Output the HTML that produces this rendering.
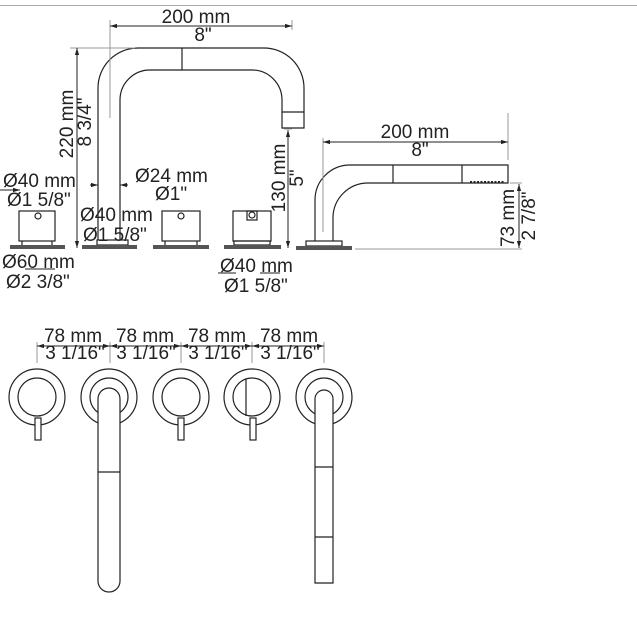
<!DOCTYPE html>
<html><head><meta charset="utf-8"><style>
html,body{margin:0;padding:0;background:#fff;width:637px;height:637px;overflow:hidden}
svg{display:block}
text{font-family:"Liberation Sans",sans-serif;font-size:19px;fill:#222}
.c{text-anchor:middle}
</style></head><body>
<svg width="637" height="637" viewBox="0 0 637 637" xmlns="http://www.w3.org/2000/svg">
<defs>
<marker id="a" viewBox="0 0 10 10" refX="10" refY="5" markerWidth="7" markerHeight="7" orient="auto-start-reverse"><path d="M0,2 L10,5 L0,8 z" fill="#222"/></marker>
</defs>
<line x1="0" y1="5.5" x2="637" y2="5.5" stroke="#aaa" stroke-width="1"/>
<g fill="none" stroke="#222" stroke-width="1.2">
<path d="M98,240 V88 A40,40 0 0 1 138,48 H264 A40,40 0 0 1 304,88 V128 H282 V112"/>
<path d="M120,240 V100 A30,30 0 0 1 150,70 H252 A30,30 0 0 1 282,100 V112 H304"/>
<line x1="182" y1="48" x2="182" y2="70"/>
<rect x="97" y="240" width="31" height="5"/>
<rect x="19" y="211" width="36" height="30"/>
<circle cx="38" cy="216" r="3"/>
<line x1="22" y1="241" x2="22" y2="245"/><line x1="52" y1="241" x2="52" y2="245"/>
<rect x="162" y="211" width="38" height="30"/>
<circle cx="181" cy="216" r="3"/>
<line x1="165" y1="241" x2="165" y2="245"/><line x1="197" y1="241" x2="197" y2="245"/>
<rect x="233" y="211" width="38" height="30"/>
<rect x="247" y="211" width="10" height="9"/>
<circle cx="252" cy="215" r="3"/>
<rect x="234" y="241" width="36" height="4"/>
<path d="M315,241 V200 A35,35 0 0 1 350,165 H508 V183 H368 A35,35 0 0 0 333,218 V241"/>
<rect x="306" y="241" width="36" height="5"/>
<line x1="393" y1="165" x2="393" y2="183"/><line x1="462" y1="165" x2="462" y2="183"/>
<line x1="470" y1="182" x2="505" y2="182" stroke-dasharray="2,1.5" stroke-width="2"/>
</g>
<g fill="#555">
<rect x="10" y="245" width="55" height="4"/>
<rect x="82" y="245" width="55" height="4"/>
<rect x="153" y="245" width="56" height="4"/>
<rect x="224" y="245" width="57" height="4"/>
<rect x="296" y="246" width="56" height="4"/>
</g>
<g stroke="#999" stroke-width="1">
<line x1="110" y1="20" x2="110" y2="118"/>
<line x1="292" y1="20" x2="292" y2="30"/>
<line x1="70" y1="48" x2="135" y2="48"/>
<line x1="284" y1="129" x2="292" y2="129"/>
<line x1="323" y1="138" x2="323" y2="232"/>
<line x1="508" y1="113" x2="508" y2="160"/>
<line x1="355" y1="249" x2="522" y2="249"/>
<line x1="510" y1="183" x2="522" y2="183"/>
<line x1="37" y1="342" x2="37" y2="363"/><line x1="110" y1="342" x2="110" y2="363"/>
<line x1="181" y1="342" x2="181" y2="363"/><line x1="252" y1="342" x2="252" y2="363"/>
<line x1="324" y1="342" x2="324" y2="363"/>
</g>
<g stroke="#222" stroke-width="1" marker-start="url(#a)" marker-end="url(#a)">
<line x1="110" y1="26" x2="292" y2="26"/>
<line x1="77" y1="48" x2="77" y2="248"/>
<line x1="288" y1="130" x2="288" y2="248"/>
<line x1="323" y1="142" x2="508" y2="142"/>
<line x1="519" y1="184" x2="519" y2="248"/>
<line x1="37" y1="346" x2="110" y2="346"/><line x1="110" y1="346" x2="181" y2="346"/>
<line x1="181" y1="346" x2="252" y2="346"/><line x1="252" y1="346" x2="324" y2="346"/>
</g>
<g stroke="#222" stroke-width="1">
<line x1="0" y1="190" x2="20" y2="190" marker-end="url(#a)"/>
<line x1="90" y1="185" x2="98" y2="185" marker-end="url(#a)"/><line x1="128" y1="185" x2="120" y2="185" marker-end="url(#a)"/>
<line x1="25" y1="269" x2="55" y2="269"/>
<line x1="218" y1="273" x2="236" y2="273"/><line x1="260" y1="273" x2="280" y2="273"/>
</g>
<text class="c" x="196" y="23">200 mm</text>
<text class="c" x="203" y="41">8"</text>
<text x="3" y="187">Ø40 mm</text>
<text x="7" y="206">Ø1 5/8"</text>
<text x="135" y="182">Ø24 mm</text>
<text x="155" y="200">Ø1"</text>
<text x="80" y="221">Ø40 mm</text>
<text x="83" y="241">Ø1 5/8"</text>
<text x="2" y="268">Ø60 mm</text>
<text x="6" y="288">Ø2 3/8"</text>
<text x="220" y="272">Ø40 mm</text>
<text x="224" y="292">Ø1 5/8"</text>
<text class="c" transform="translate(73,124) rotate(-90)">220 mm</text>
<text class="c" transform="translate(91,122) rotate(-90)">8 3/4"</text>
<text class="c" transform="translate(285,178) rotate(-90)">130 mm</text>
<text class="c" transform="translate(303,178) rotate(-90)">5"</text>
<text class="c" x="415" y="138">200 mm</text>
<text class="c" x="420" y="156">8"</text>
<text class="c" transform="translate(514,218) rotate(-90)">73 mm</text>
<text class="c" transform="translate(535,216) rotate(-90)">2 7/8"</text>
<text class="c" x="73" y="342">78 mm</text><text class="c" x="145" y="342">78 mm</text>
<text class="c" x="217" y="342">78 mm</text><text class="c" x="289" y="342">78 mm</text>
<text class="c" x="75" y="359">3 1/16"</text><text class="c" x="146" y="359">3 1/16"</text>
<text class="c" x="218" y="359">3 1/16"</text><text class="c" x="290" y="359">3 1/16"</text>
<g fill="#fff" stroke="#222" stroke-width="1.2">
<circle cx="37" cy="397" r="28"/><circle cx="37" cy="397" r="19"/>
<rect x="35" y="418" width="6" height="22"/>
<circle cx="109" cy="397" r="28"/><circle cx="109" cy="397" r="19"/>
<path d="M98,399 A11,11 0 0 1 120,399 V581 A11,11 0 0 1 98,581 Z"/>
<line x1="98" y1="472" x2="120" y2="472"/>
<circle cx="181" cy="397" r="28"/><circle cx="181" cy="397" r="19"/>
<rect x="178" y="418" width="6" height="22"/>
<circle cx="252" cy="397" r="28"/><circle cx="252" cy="397" r="19"/>
<line x1="246" y1="379" x2="246" y2="416"/>
<rect x="250" y="418" width="6" height="22"/>
<circle cx="324" cy="397" r="28"/><circle cx="324" cy="397" r="19"/>
<path d="M315,399 A9,9 0 0 1 333,399 V583 H315 Z"/>
<line x1="315" y1="467" x2="333" y2="467"/><line x1="315" y1="537" x2="333" y2="537"/>
</g>
</svg>
</body></html>
